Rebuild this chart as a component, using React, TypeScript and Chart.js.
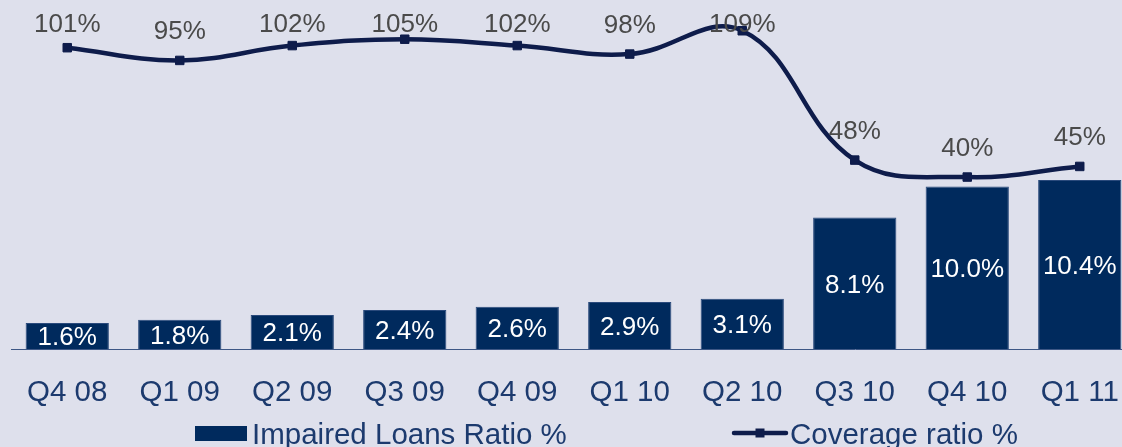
import React, { useEffect, useRef } from "react";
import { Chart, registerables } from "chart.js";

Chart.register(...registerables);

const categories = ["Q4 08", "Q1 09", "Q2 09", "Q3 09", "Q4 09", "Q1 10", "Q2 10", "Q3 10", "Q4 10", "Q1 11"];
const impairedLoansRatio = [1.6, 1.8, 2.1, 2.4, 2.6, 2.9, 3.1, 8.1, 10.0, 10.4];
const coverageRatio = [101, 95, 102, 105, 102, 98, 109, 48, 40, 45];
const barLabels = ["1.6%", "1.8%", "2.1%", "2.4%", "2.6%", "2.9%", "3.1%", "8.1%", "10.0%", "10.4%"];
const lineLabels = ["101%", "95%", "102%", "105%", "102%", "98%", "109%", "48%", "40%", "45%"];
const seriesNames = ["Impaired Loans Ratio %", "Coverage ratio %"];

const FONT = '"Liberation Sans", Arial, sans-serif';
const BG = "#dee0ec";
const BAR_COLOR = "#002a5d";
const LINE_COLOR = "#0e1c4b";
const AXIS_TEXT = "#1c3a6e";
const LABEL_GRAY = "#4a4a4a";

const valueLabels = {
  id: "valueLabels",
  afterDatasetsDraw(chart: any) {
    const ctx = chart.ctx;
    ctx.save();
    ctx.font = `26px ${FONT}`;
    ctx.textAlign = "center";
    ctx.textBaseline = "alphabetic";
    ctx.fillStyle = "#ffffff";
    chart.getDatasetMeta(0).data.forEach((el: any, i: number) => {
      const { x, y, base } = el.getProps(["x", "y", "base"], true);
      const cy = (y + base) / 2;
      ctx.fillText(barLabels[i], x, cy + 26 * 0.358);
    });
    ctx.fillStyle = LABEL_GRAY;
    chart.getDatasetMeta(1).data.forEach((el: any, i: number) => {
      const { x, y } = el.getProps(["x", "y"], true);
      ctx.fillText(lineLabels[i], x, Math.max(y - 21, 32));
    });
    ctx.restore();
  },
};

const customLegend = {
  id: "customLegend",
  afterDraw(chart: any) {
    const ctx = chart.ctx;
    ctx.save();
    ctx.font = `29.5px ${FONT}`;
    ctx.textAlign = "left";
    ctx.textBaseline = "alphabetic";
    ctx.fillStyle = BAR_COLOR;
    ctx.fillRect(195, 426, 52, 15);
    ctx.fillStyle = AXIS_TEXT;
    ctx.fillText(seriesNames[0], 252, 444);
    ctx.strokeStyle = LINE_COLOR;
    ctx.lineWidth = 4.5;
    ctx.lineCap = "round";
    ctx.beginPath();
    ctx.moveTo(734, 433);
    ctx.lineTo(786, 433);
    ctx.stroke();
    ctx.fillStyle = LINE_COLOR;
    ctx.fillRect(755.5, 428.5, 9, 9);
    ctx.fillStyle = AXIS_TEXT;
    ctx.fillText(seriesNames[1], 790, 444);
    ctx.restore();
  },
};

export default function App() {
  const canvasRef = useRef<HTMLCanvasElement | null>(null);

  useEffect(() => {
    const canvas = canvasRef.current;
    if (!canvas) return;
    const chart = new Chart(canvas, {
      type: "bar",
      data: {
        labels: categories,
        datasets: [
          {
            type: "bar",
            label: seriesNames[0],
            data: impairedLoansRatio,
            backgroundColor: BAR_COLOR,
            borderColor: "#2a4a7c",
            borderWidth: 1,
            barPercentage: 0.74,
            categoryPercentage: 1,
            yAxisID: "y",
            order: 1,
          },
          {
            type: "line",
            label: seriesNames[1],
            data: coverageRatio,
            borderColor: LINE_COLOR,
            backgroundColor: LINE_COLOR,
            borderWidth: 4.5,
            tension: 0.4,
            pointStyle: "rect",
            pointRadius: 6,
            pointBorderWidth: 1,
            pointBackgroundColor: LINE_COLOR,
            pointBorderColor: LINE_COLOR,
            yAxisID: "y1",
            order: 0,
          } as any,
        ],
      },
      options: {
        animation: false,
        responsive: false,
        devicePixelRatio: 1,
        layout: { autoPadding: false, padding: { left: 11, right: 4, top: 0, bottom: 0 } },
        plugins: {
          legend: { display: false },
          tooltip: { enabled: false },
        },
        scales: {
          x: {
            grid: { display: false, drawTicks: true, tickLength: 26 },
            border: { display: true, color: "#3d5785", width: 1 },
            ticks: {
              font: { size: 29.5, family: FONT },
              color: AXIS_TEXT,
              padding: 0,
              maxRotation: 0,
              autoSkip: false,
            },
            afterFit: (s: any) => {
              s.height = 98;
            },
          },
          y: { display: false, min: 0, max: 21.48 },
          y1: { display: false, min: -41.1, max: 123.5, position: "right" },
        },
      } as any,
      plugins: [valueLabels, customLegend],
    });
    return () => chart.destroy();
  }, []);

  return (
    <div
      style={{
        position: "fixed",
        left: 0,
        top: 0,
        width: 1122,
        height: 447,
        overflow: "hidden",
        background: BG,
      }}
    >
      <canvas ref={canvasRef} width={1140} height={447} style={{ width: 1140, height: 447, display: "block" }} />
    </div>
  );
}
